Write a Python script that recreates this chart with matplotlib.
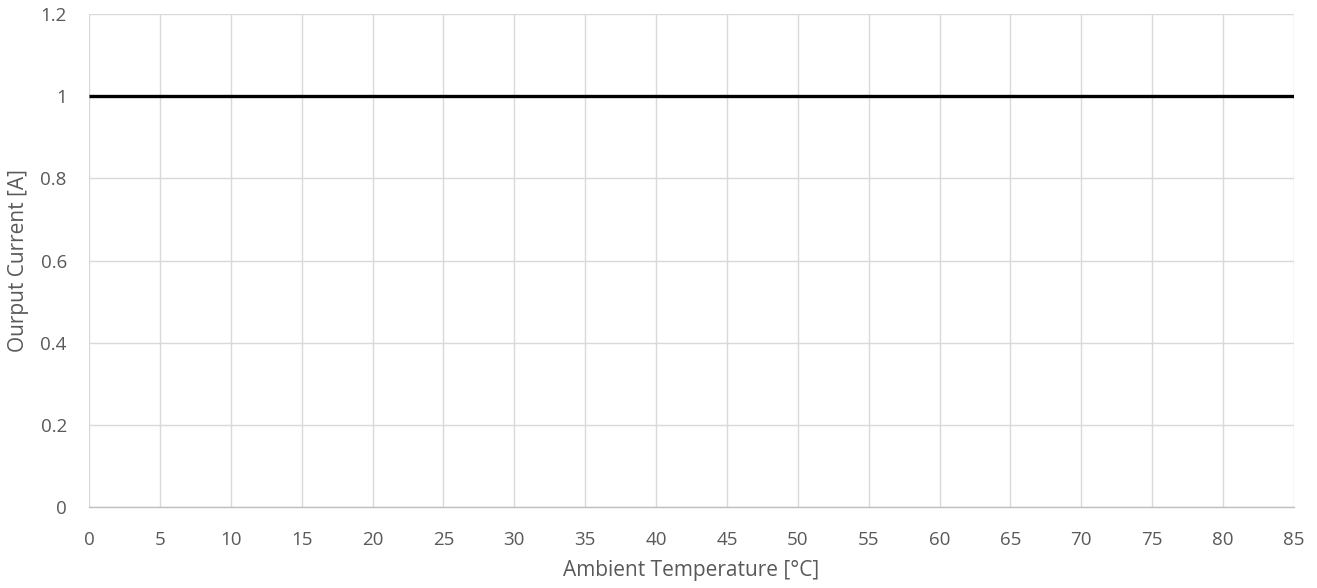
import matplotlib
matplotlib.use("Agg")
import matplotlib.pyplot as plt

temperature = [0, 85]
current = [1, 1]
x_ticks = list(range(0, 90, 5))
y_ticks = [0, 0.2, 0.4, 0.6, 0.8, 1, 1.2]
y_labels = ["0", "0.2", "0.4", "0.6", "0.8", "1", "1.2"]

plt.rcParams['font.family'] = ['Open Sans', 'DejaVu Sans']
fig = plt.figure(figsize=(13.17, 5.88), dpi=100)
ax = fig.add_axes([89/1317, 1-507/588, (1294-89)/1317, (507-14)/588])

ax.plot(temperature, current, color='black', lw=2.4, solid_capstyle='butt', zorder=3)
ax.set_xlim(0, 85)
ax.set_ylim(0, 1.2)
ax.set_xticks(x_ticks)
ax.set_yticks(y_ticks)
ax.set_yticklabels(y_labels)
ax.grid(True, color='#d9d9d9', lw=1.0)
ax.set_axisbelow(True)
for s in ['top', 'right', 'left']:
    ax.spines[s].set_visible(False)
ax.spines['bottom'].set_color('#bfbfbf')
ax.spines['bottom'].set_linewidth(1.0)
ax.tick_params(axis='x', length=0, labelsize=13.5, colors='#595959', pad=17)
ax.tick_params(axis='y', length=0, labelsize=13.5, colors='#595959', pad=16)
ax.set_xlabel('Ambient Temperature [°C]', fontsize=15, color='#595959', labelpad=8)
ax.set_ylabel('Ourput Current [A]', fontsize=15, color='#595959', labelpad=8)

fig.savefig('out.png', dpi=100)
